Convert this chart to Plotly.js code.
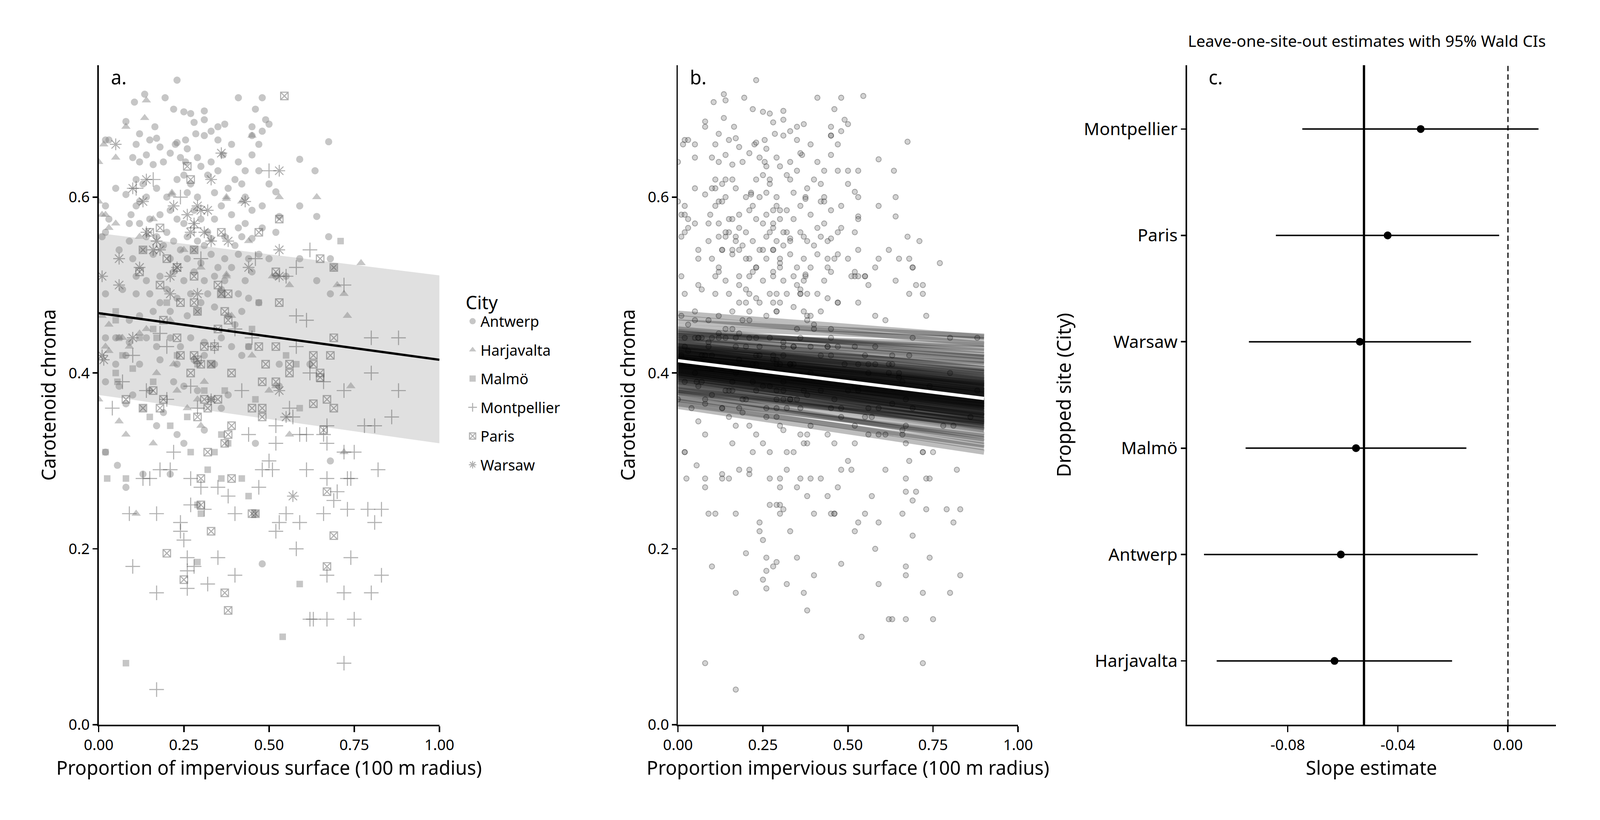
<!DOCTYPE html>
<html>
<head>
<meta charset="utf-8">
<script src="https://cdn.plot.ly/plotly-3.0.1.min.js"></script>
<style>
  html, body { margin: 0; padding: 0; background: #fff; overflow: hidden; }
</style>
</head>
<body>
<div id="plot"></div>
<script>
// ---- data ----
var cities = ['Antwerp', 'Harjavalta', 'Malmö', 'Montpellier', 'Paris', 'Warsaw'];

// panel a / b points as [impervious, chroma]
var antwerpPts = [
  [0.23,0.733],[0.135,0.717],[0.105,0.708],[0.195,0.713],[0.22,0.70],[0.25,0.697],[0.27,0.695],[0.31,0.698],
  [0.41,0.713],[0.48,0.713],[0.46,0.70],[0.45,0.67],[0.02,0.665],[0.03,0.665],[0.08,0.686],[0.12,0.672],
  [0.165,0.68],[0.17,0.667],[0.28,0.685],[0.285,0.672],[0.31,0.688],[0.35,0.68],[0.37,0.683],[0.45,0.68],
  [0.49,0.688],[0.50,0.683],[0.675,0.663],[0.225,0.66],[0.255,0.665],[0.26,0.655],[0.31,0.67],[0.33,0.675],
  [0.35,0.665],[0.39,0.66],[0.47,0.66],[0.48,0.675],[0.11,0.66],[0.15,0.665],[0.18,0.657],[0.23,0.662],
  [0.10,0.645],[0.12,0.64],[0.14,0.648],[0.16,0.637],[0.19,0.64],[0.21,0.65],[0.24,0.645],[0.255,0.64],
  [0.29,0.645],[0.30,0.635],[0.33,0.64],[0.35,0.63],[0.365,0.648],[0.40,0.62],[0.41,0.64],[0.43,0.63],
  [0.45,0.648],[0.47,0.63],[0.59,0.643],[0.635,0.63],[0.11,0.62],[0.13,0.615],[0.23,0.62],[0.25,0.625],
  [0.27,0.615],[0.32,0.625],[0.38,0.61],[0.42,0.615],[0.50,0.615],[0.05,0.61],[0.08,0.603],[0.14,0.60],
  [0.17,0.61],[0.20,0.60],[0.26,0.605],[0.29,0.60],[0.34,0.605],[0.36,0.59],[0.43,0.60],[0.45,0.585],
  [0.59,0.59],[0.48,0.59],[0.52,0.606],[0.11,0.59],[0.12,0.595],[0.02,0.59],[0.03,0.575],[0.09,0.57],
  [0.095,0.58],[0.12,0.57],[0.15,0.575],[0.18,0.58],[0.21,0.585],[0.23,0.575],[0.25,0.57],[0.28,0.585],
  [0.30,0.575],[0.32,0.56],[0.34,0.575],[0.39,0.58],[0.41,0.565],[0.43,0.57],[0.48,0.565],[0.52,0.56],
  [0.53,0.578],[0.64,0.578],[0.09,0.55],[0.14,0.555],[0.17,0.555],[0.20,0.56],[0.22,0.55],[0.26,0.555],
  [0.29,0.55],[0.31,0.545],[0.33,0.553],[0.37,0.555],[0.40,0.545],[0.42,0.555],[0.45,0.553],[0.675,0.555],
  [0.01,0.555],[0.02,0.56],[0.06,0.54],[0.10,0.53],[0.13,0.54],[0.16,0.535],[0.19,0.545],[0.21,0.53],
  [0.24,0.54],[0.26,0.53],[0.28,0.54],[0.30,0.525],[0.33,0.535],[0.35,0.52],[0.37,0.53],[0.39,0.52],
  [0.41,0.535],[0.44,0.53],[0.47,0.535],[0.50,0.53],[0.59,0.53],[0.64,0.505],[0.68,0.53],[0.69,0.52],
  [0.11,0.51],[0.14,0.505],[0.18,0.51],[0.22,0.515],[0.25,0.505],[0.28,0.515],[0.31,0.505],[0.34,0.51],
  [0.37,0.505],[0.43,0.505],[0.45,0.515],[0.52,0.51],[0.55,0.51],[0.02,0.49],[0.07,0.495],[0.11,0.49],
  [0.15,0.49],[0.18,0.48],[0.20,0.495],[0.23,0.485],[0.27,0.49],[0.30,0.48],[0.32,0.49],[0.36,0.495],
  [0.41,0.49],[0.44,0.485],[0.47,0.48],[0.68,0.49],[0.12,0.465],[0.16,0.47],[0.21,0.47],[0.26,0.465],
  [0.29,0.47],[0.34,0.475],[0.38,0.465],[0.42,0.47],[0.09,0.46],[0.40,0.455],[0.02,0.44],[0.05,0.44],
  [0.09,0.435],[0.14,0.44],[0.17,0.43],[0.21,0.44],[0.24,0.43],[0.27,0.44],[0.31,0.435],[0.36,0.44],
  [0.39,0.43],[0.44,0.43],[0.08,0.42],[0.12,0.41],[0.18,0.415],[0.23,0.41],[0.28,0.415],[0.31,0.42],
  [0.34,0.41],[0.42,0.42],[0.53,0.41],[0.62,0.41],[0.05,0.41],[0.02,0.39],[0.06,0.385],[0.10,0.375],
  [0.15,0.38],[0.22,0.39],[0.25,0.385],[0.29,0.38],[0.33,0.37],[0.36,0.36],[0.38,0.375],[0.53,0.385],
  [0.08,0.365],[0.19,0.355],[0.17,0.34],[0.23,0.33],[0.31,0.335],[0.46,0.32],[0.02,0.31],[0.055,0.295],
  [0.08,0.27],[0.13,0.285],[0.21,0.285],[0.25,0.32],[0.48,0.183],[0.68,0.30]
];
var harjavaltaPts = [
  [0.14,0.71],[0.135,0.69],[0.08,0.68],[0.015,0.66],[0.05,0.645],[0.0,0.64],[0.45,0.67],[0.53,0.60],
  [0.64,0.60],[0.215,0.605],[0.215,0.603],[0.375,0.60],[0.375,0.598],[0.375,0.51],[0.375,0.512],[0.42,0.595],
  [0.0,0.595],[0.01,0.58],[0.02,0.58],[0.03,0.565],[0.05,0.57],[0.16,0.575],[0.12,0.555],[0.25,0.54],
  [0.77,0.525],[0.51,0.51],[0.70,0.50],[0.72,0.49],[0.73,0.465],[0.56,0.50],[0.30,0.52],[0.01,0.465],
  [0.03,0.455],[0.07,0.44],[0.12,0.445],[0.14,0.45],[0.21,0.46],[0.39,0.465],[0.02,0.43],[0.06,0.44],
  [0.22,0.41],[0.03,0.425],[0.09,0.43],[0.23,0.38],[0.29,0.37],[0.31,0.39],[0.52,0.385],[0.50,0.38],
  [0.74,0.385],[0.06,0.345],[0.08,0.33],[0.16,0.32],[0.30,0.34],[0.56,0.33],[0.72,0.31],[0.11,0.24],
  [0.0,0.37],[0.26,0.36],[0.17,0.40],[0.44,0.55],[0.45,0.42]
];
var malmoPts = [
  [0.05,0.46],[0.06,0.44],[0.07,0.42],[0.05,0.40],[0.055,0.39],[0.10,0.405],[0.17,0.44],[0.16,0.45],
  [0.12,0.44],[0.13,0.36],[0.15,0.35],[0.23,0.42],[0.26,0.35],[0.27,0.31],[0.29,0.41],[0.31,0.38],
  [0.33,0.41],[0.37,0.38],[0.36,0.33],[0.44,0.43],[0.45,0.45],[0.46,0.37],[0.36,0.49],[0.58,0.41],
  [0.55,0.42],[0.59,0.36],[0.71,0.55],[0.02,0.31],[0.025,0.28],[0.08,0.28],[0.29,0.25],[0.30,0.24],
  [0.32,0.29],[0.36,0.28],[0.38,0.32],[0.42,0.28],[0.44,0.26],[0.46,0.24],[0.29,0.185],[0.59,0.16],
  [0.54,0.10],[0.08,0.07],[0.16,0.39],[0.21,0.34],[0.34,0.31],[0.47,0.48],[0.20,0.48],[0.05,0.47]
];
var montpellierPts = [
  [0.50,0.63],[0.46,0.53],[0.62,0.54],[0.58,0.52],[0.55,0.51],[0.72,0.50],[0.61,0.46],[0.58,0.43],
  [0.80,0.44],[0.88,0.44],[0.80,0.40],[0.72,0.38],[0.88,0.38],[0.62,0.40],[0.66,0.39],[0.78,0.34],
  [0.81,0.34],[0.86,0.35],[0.52,0.34],[0.57,0.35],[0.59,0.33],[0.61,0.33],[0.67,0.34],[0.67,0.32],
  [0.72,0.31],[0.75,0.31],[0.66,0.33],[0.52,0.32],[0.50,0.30],[0.48,0.29],[0.51,0.29],[0.61,0.29],
  [0.67,0.28],[0.73,0.28],[0.74,0.28],[0.82,0.29],[0.47,0.27],[0.35,0.27],[0.38,0.26],[0.30,0.27],
  [0.27,0.28],[0.22,0.31],[0.21,0.29],[0.18,0.29],[0.15,0.28],[0.09,0.24],[0.17,0.24],[0.24,0.23],
  [0.25,0.21],[0.24,0.22],[0.27,0.25],[0.31,0.245],[0.40,0.24],[0.53,0.23],[0.55,0.24],[0.52,0.22],
  [0.59,0.23],[0.66,0.24],[0.73,0.245],[0.79,0.245],[0.81,0.23],[0.83,0.245],[0.26,0.19],[0.28,0.18],
  [0.26,0.175],[0.35,0.19],[0.40,0.17],[0.32,0.16],[0.26,0.155],[0.10,0.18],[0.17,0.15],[0.58,0.20],
  [0.67,0.17],[0.74,0.19],[0.72,0.15],[0.80,0.15],[0.83,0.17],[0.62,0.12],[0.63,0.12],[0.67,0.12],
  [0.75,0.12],[0.72,0.07],[0.17,0.04],[0.18,0.445],[0.20,0.43],[0.10,0.42],[0.14,0.38],[0.27,0.385],
  [0.34,0.43],[0.13,0.28],[0.04,0.36],[0.07,0.39],[0.20,0.37],[0.16,0.62],[0.11,0.61],[0.24,0.60],
  [0.28,0.565],[0.30,0.53],[0.42,0.38],[0.40,0.45],[0.45,0.44],[0.56,0.36],[0.58,0.465],[0.70,0.265],
  [0.69,0.255],[0.29,0.36],[0.44,0.33]
];
var parisPts = [
  [0.545,0.715],[0.53,0.575],[0.47,0.56],[0.36,0.56],[0.27,0.62],[0.26,0.635],[0.13,0.54],[0.15,0.56],
  [0.18,0.565],[0.28,0.54],[0.28,0.51],[0.36,0.49],[0.38,0.49],[0.35,0.50],[0.65,0.53],[0.69,0.52],
  [0.52,0.515],[0.53,0.48],[0.24,0.48],[0.20,0.53],[0.23,0.52],[0.12,0.515],[0.18,0.50],[0.28,0.48],
  [0.29,0.47],[0.30,0.41],[0.33,0.41],[0.27,0.40],[0.28,0.42],[0.29,0.415],[0.24,0.42],[0.23,0.44],
  [0.34,0.43],[0.35,0.45],[0.38,0.46],[0.37,0.47],[0.39,0.40],[0.31,0.43],[0.47,0.43],[0.49,0.41],
  [0.52,0.43],[0.52,0.39],[0.56,0.41],[0.56,0.40],[0.63,0.41],[0.63,0.42],[0.65,0.40],[0.65,0.395],
  [0.68,0.42],[0.69,0.44],[0.48,0.39],[0.19,0.46],[0.08,0.37],[0.13,0.36],[0.18,0.36],[0.19,0.37],
  [0.16,0.38],[0.31,0.37],[0.32,0.36],[0.35,0.37],[0.29,0.35],[0.39,0.34],[0.38,0.33],[0.37,0.32],
  [0.45,0.36],[0.48,0.35],[0.48,0.36],[0.63,0.365],[0.66,0.335],[0.67,0.37],[0.69,0.36],[0.32,0.31],
  [0.30,0.28],[0.39,0.28],[0.30,0.25],[0.45,0.24],[0.33,0.22],[0.20,0.195],[0.25,0.165],[0.37,0.15],
  [0.38,0.13],[0.67,0.265],[0.69,0.215],[0.67,0.18],[0.46,0.24]
];
var warsawPts = [
  [0.05,0.66],[0.10,0.61],[0.14,0.62],[0.13,0.595],[0.22,0.59],[0.29,0.59],[0.26,0.58],[0.30,0.585],
  [0.33,0.62],[0.36,0.65],[0.53,0.63],[0.43,0.595],[0.38,0.55],[0.27,0.56],[0.28,0.57],[0.17,0.55],
  [0.14,0.56],[0.06,0.53],[0.01,0.51],[0.06,0.50],[0.12,0.52],[0.21,0.49],[0.21,0.51],[0.23,0.52],
  [0.53,0.54],[0.53,0.51],[0.10,0.44],[0.18,0.54],[0.32,0.585],[0.01,0.42],[0.015,0.415],[0.33,0.37],
  [0.55,0.35],[0.53,0.38],[0.57,0.26],[0.44,0.52],[0.16,0.54],[0.33,0.55],[0.31,0.56],[0.29,0.49]
];

// panel a: fitted line with 95% band
var fitX = [0, 1];
var fitY = [0.468, 0.415];
var bandLow = [0.375, 0.320];
var bandHigh = [0.559, 0.511];

// panel b: posterior draws, chroma at x = 0 and x = 0.9
var drawX = [0, 0.9];
var drawStartY = [0.452,0.447,0.443,0.440,0.438,0.436,0.434,0.432,0.431,0.430,0.429,0.428,0.427,0.426,0.425,
  0.424,0.423,0.422,0.421,0.420,0.419,0.418,0.418,0.417,0.416,0.416,0.415,0.414,0.414,0.413,0.412,0.412,0.411,
  0.410,0.409,0.409,0.408,0.407,0.406,0.405,0.404,0.403,0.402,0.401,0.400,0.399,0.398,0.396,0.395,0.393,0.391,
  0.389,0.386,0.383,0.380,0.376,0.372,0.368,
  0.435,0.431,0.428,0.426,0.424,0.422,0.420,0.419,0.417,0.416,0.415,0.413,0.412,0.411,0.410,0.408,
  0.407,0.406,0.404,0.403,0.401,0.400,0.398,0.397,0.395,0.392,0.390,0.445,0.385,0.378,0.458,0.362,
  0.468,0.463,0.450,0.446,0.442,0.440,0.381,0.378,0.370,0.365];
var drawEndY = [0.438,0.425,0.432,0.418,0.405,0.412,0.398,0.402,0.395,0.410,0.392,0.388,0.400,0.385,0.396,
  0.383,0.390,0.380,0.387,0.378,0.384,0.375,0.389,0.372,0.381,0.370,0.377,0.368,0.374,0.366,0.379,0.364,0.371,
  0.362,0.369,0.358,0.367,0.360,0.365,0.355,0.363,0.352,0.361,0.350,0.357,0.348,0.354,0.345,0.351,0.342,0.347,
  0.338,0.344,0.335,0.340,0.330,0.325,0.315,
  0.392,0.401,0.386,0.394,0.380,0.389,0.376,0.386,0.373,0.383,0.369,0.380,0.366,0.377,0.363,0.374,
  0.360,0.371,0.357,0.368,0.354,0.364,0.351,0.360,0.347,0.352,0.343,0.428,0.336,0.322,0.442,0.310,
  0.441,0.433,0.421,0.418,0.414,0.405,0.345,0.341,0.328,0.318];
var meanDrawY = [0.414, 0.371];

// panel c: leave-one-site-out slopes
var droppedSite = ['Montpellier', 'Paris', 'Warsaw', 'Malmö', 'Antwerp', 'Harjavalta'];
var slopeEst = [-0.0317, -0.0437, -0.0538, -0.0552, -0.0607, -0.0630];
var ciLow = [-0.0747, -0.0843, -0.0941, -0.0953, -0.1104, -0.1058];
var ciHigh = [0.0111, -0.0032, -0.0134, -0.0151, -0.0110, -0.0203];
var fullSlope = -0.0523;
var slopeTicks = [-0.08, -0.04, 0];
var slopeTickLabels = ['-0.08', '-0.04', '0.00'];

// ---- sizing: laid out on a 5400 x 2100 design, stretched to fill the window ----
var W = window.innerWidth || 5400, H = window.innerHeight || 2100;
var SX = W / 5400, SY = H / 2100;
var SF = Math.min(1, Math.sqrt(SX * SY) * 0.96);
function fx(v) { return v * SX; }   // horizontal pixel lengths
function fy(v) { return v * SY; }   // vertical pixel lengths
function fs(v) { return v * SF; }   // fonts, markers, strokes
document.getElementById('plot').style.width = W + 'px';
document.getElementById('plot').style.height = H + 'px';

var FONT = 'Noto Sans, Open Sans, sans-serif';
var allPts = [antwerpPts, harjavaltaPts, malmoPts, montpellierPts, parisPts, warsawPts];
var symbols = ['circle', 'triangle-up', 'square', 'cross-thin-open', 'square-x-open', 'asterisk-open'];
var sizes = [22, 25, 20, 32, 23, 30];

var traces = [];

// ribbon (lower edge, then upper edge filled to it)
traces.push({
  x: fitX, y: bandLow, xaxis: 'x', yaxis: 'y', mode: 'lines',
  line: {width: 0, color: 'rgba(0,0,0,0)'}, showlegend: false, hoverinfo: 'skip'
});
traces.push({
  x: fitX, y: bandHigh, xaxis: 'x', yaxis: 'y', mode: 'lines', fill: 'tonexty',
  fillcolor: '#e0e0e0', line: {width: 0, color: 'rgba(0,0,0,0)'}, showlegend: false, hoverinfo: 'skip'
});

// city points, panel a
for (var i = 0; i < cities.length; i++) {
  var open = symbols[i].indexOf('open') >= 0;
  traces.push({
    x: allPts[i].map(function(p) { return p[0]; }),
    y: allPts[i].map(function(p) { return p[1]; }),
    xaxis: 'x', yaxis: 'y', type: 'scatter', mode: 'markers', name: cities[i],
    legendgroup: cities[i],
    marker: {
      symbol: symbols[i], size: fs(sizes[i]),
      color: open ? 'rgba(80,80,80,0.45)' : 'rgba(128,128,128,0.45)',
      line: {width: open ? fs(3.2) : 0, color: 'rgba(80,80,80,0.45)'}
    }
  });
}

// fitted line, panel a
traces.push({
  x: fitX, y: fitY, xaxis: 'x', yaxis: 'y', mode: 'lines',
  line: {color: '#000', width: fs(7)}, showlegend: false
});

// all points, panel b
var bx = [], by = [];
allPts.forEach(function(list) {
  list.forEach(function(p) { bx.push(p[0]); by.push(p[1]); });
});
traces.push({
  x: bx, y: by, xaxis: 'x2', yaxis: 'y2', type: 'scatter', mode: 'markers', showlegend: false,
  marker: {symbol: 'circle', size: fs(16), color: 'rgba(128,128,128,0.35)',
           line: {width: fs(2.5), color: 'rgba(0,0,0,0.3)'}}
});

// posterior draws, panel b
for (var d = 0; d < drawStartY.length; d++) {
  traces.push({
    x: drawX, y: [drawStartY[d], drawEndY[d]], xaxis: 'x2', yaxis: 'y2', mode: 'lines',
    line: {color: 'rgba(0,0,0,0.26)', width: fs(16)}, showlegend: false, hoverinfo: 'skip'
  });
}
traces.push({
  x: drawX, y: meanDrawY, xaxis: 'x2', yaxis: 'y2', mode: 'lines',
  line: {color: '#fff', width: fs(10)}, showlegend: false
});

// panel c estimates with CIs
traces.push({
  x: slopeEst, y: droppedSite, xaxis: 'x3', yaxis: 'y3', type: 'scatter', mode: 'markers',
  showlegend: false,
  marker: {color: '#000', size: fs(24)},
  error_x: {
    type: 'data', symmetric: false,
    array: ciHigh.map(function(v, k) { return v - slopeEst[k]; }),
    arrayminus: slopeEst.map(function(v, k) { return v - ciLow[k]; }),
    color: '#000', thickness: fs(4.5), width: 0
  }
});

function axisBase(isX, extra) {
  var a = {
    showline: true, linecolor: '#000', linewidth: fs(4.5), mirror: false,
    ticks: 'outside', ticklen: isX ? fy(15) : fx(15), tickwidth: fs(4.5), tickcolor: '#000',
    showgrid: false, zeroline: false,
    tickfont: {family: FONT, size: fs(46), color: '#000'}
  };
  for (var k in extra) a[k] = extra[k];
  return a;
}
var titleFont = {family: FONT, size: fs(58), color: '#000'};
var legendFont = fs(45);

var layout = {
  width: W, height: H,
  margin: {l: 0, r: 0, t: 0, b: 0},
  paper_bgcolor: '#fff', plot_bgcolor: 'rgba(0,0,0,0)',
  font: {family: FONT, color: '#000'},
  showlegend: true,
  legend: {
    x: 0.2905, y: 0.652, xanchor: 'left', yanchor: 'top',
    title: {text: 'City', font: {family: FONT, size: fs(56), color: '#000'}},
    font: {family: FONT, size: legendFont, color: '#000'},
    tracegroupgap: Math.max(0, fy(72) - 1.34 * legendFont), itemsizing: 'trace'
  },
  xaxis: axisBase(true, {domain: [0.06167, 0.27463], range: [0, 1], tickvals: [0, 0.25, 0.5, 0.75, 1],
    tickformat: '.2f', anchor: 'y',
    title: {text: 'Proportion of impervious surface (100 m radius)', font: titleFont, standoff: fy(20)}}),
  yaxis: axisBase(false, {domain: [0.11619, 0.92048], range: [0, 0.75], tickvals: [0, 0.2, 0.4, 0.6],
    tickformat: '.1f', anchor: 'x',
    title: {text: 'Carotenoid chroma', font: titleFont, standoff: fx(24)}}),
  xaxis2: axisBase(true, {domain: [0.42370, 0.63630], range: [0, 1], tickvals: [0, 0.25, 0.5, 0.75, 1],
    tickformat: '.2f', anchor: 'y2',
    title: {text: 'Proportion impervious surface (100 m radius)', font: titleFont, standoff: fy(20)}}),
  yaxis2: axisBase(false, {domain: [0.11619, 0.92048], range: [0, 0.75], tickvals: [0, 0.2, 0.4, 0.6],
    tickformat: '.1f', anchor: 'x2',
    title: {text: 'Carotenoid chroma', font: titleFont, standoff: fx(24)}}),
  xaxis3: axisBase(true, {domain: [0.74185, 0.97241], range: [-0.1166, 0.0174], tickvals: slopeTicks,
    ticktext: slopeTickLabels, anchor: 'y3',
    title: {text: 'Slope estimate', font: titleFont, standoff: fy(20)}}),
  yaxis3: axisBase(false, {domain: [0.11619, 0.92048], type: 'category', range: [-0.6, 5.6],
    categoryorder: 'array', categoryarray: droppedSite.slice().reverse(), anchor: 'x3',
    tickfont: {family: FONT, size: fs(53), color: '#000'},
    title: {text: 'Dropped site (City)', font: titleFont, standoff: fx(24)}}),
  shapes: [
    {type: 'line', xref: 'x3', yref: 'y3 domain', x0: fullSlope, x1: fullSlope, y0: 0, y1: 1,
     line: {color: '#000', width: fs(7)}},
    {type: 'line', xref: 'x3', yref: 'y3 domain', x0: 0, x1: 0, y0: 0, y1: 1,
     line: {color: '#000', width: fs(3.5), dash: fs(16) + 'px,' + fs(10) + 'px'}}
  ],
  annotations: [
    {text: 'a.', xref: 'x domain', yref: 'y domain', x: 0.034, y: 0.982, xanchor: 'left', yanchor: 'middle',
     showarrow: false, font: {family: FONT, size: fs(58), color: '#000'}},
    {text: 'b.', xref: 'x2 domain', yref: 'y2 domain', x: 0.033, y: 0.982, xanchor: 'left', yanchor: 'middle',
     showarrow: false, font: {family: FONT, size: fs(58), color: '#000'}},
    {text: 'c.', xref: 'x3 domain', yref: 'y3 domain', x: 0.057, y: 0.982, xanchor: 'left', yanchor: 'middle',
     showarrow: false, font: {family: FONT, size: fs(58), color: '#000'}},
    {text: 'Leave-one-site-out estimates with 95% Wald CIs', xref: 'paper', yref: 'paper',
     x: 0.742, y: 0.9505, xanchor: 'left', yanchor: 'middle', showarrow: false,
     font: {family: FONT, size: fs(49), color: '#000'}}
  ]
};

Plotly.newPlot('plot', traces, layout, {staticPlot: true});
</script>
</body>
</html>
